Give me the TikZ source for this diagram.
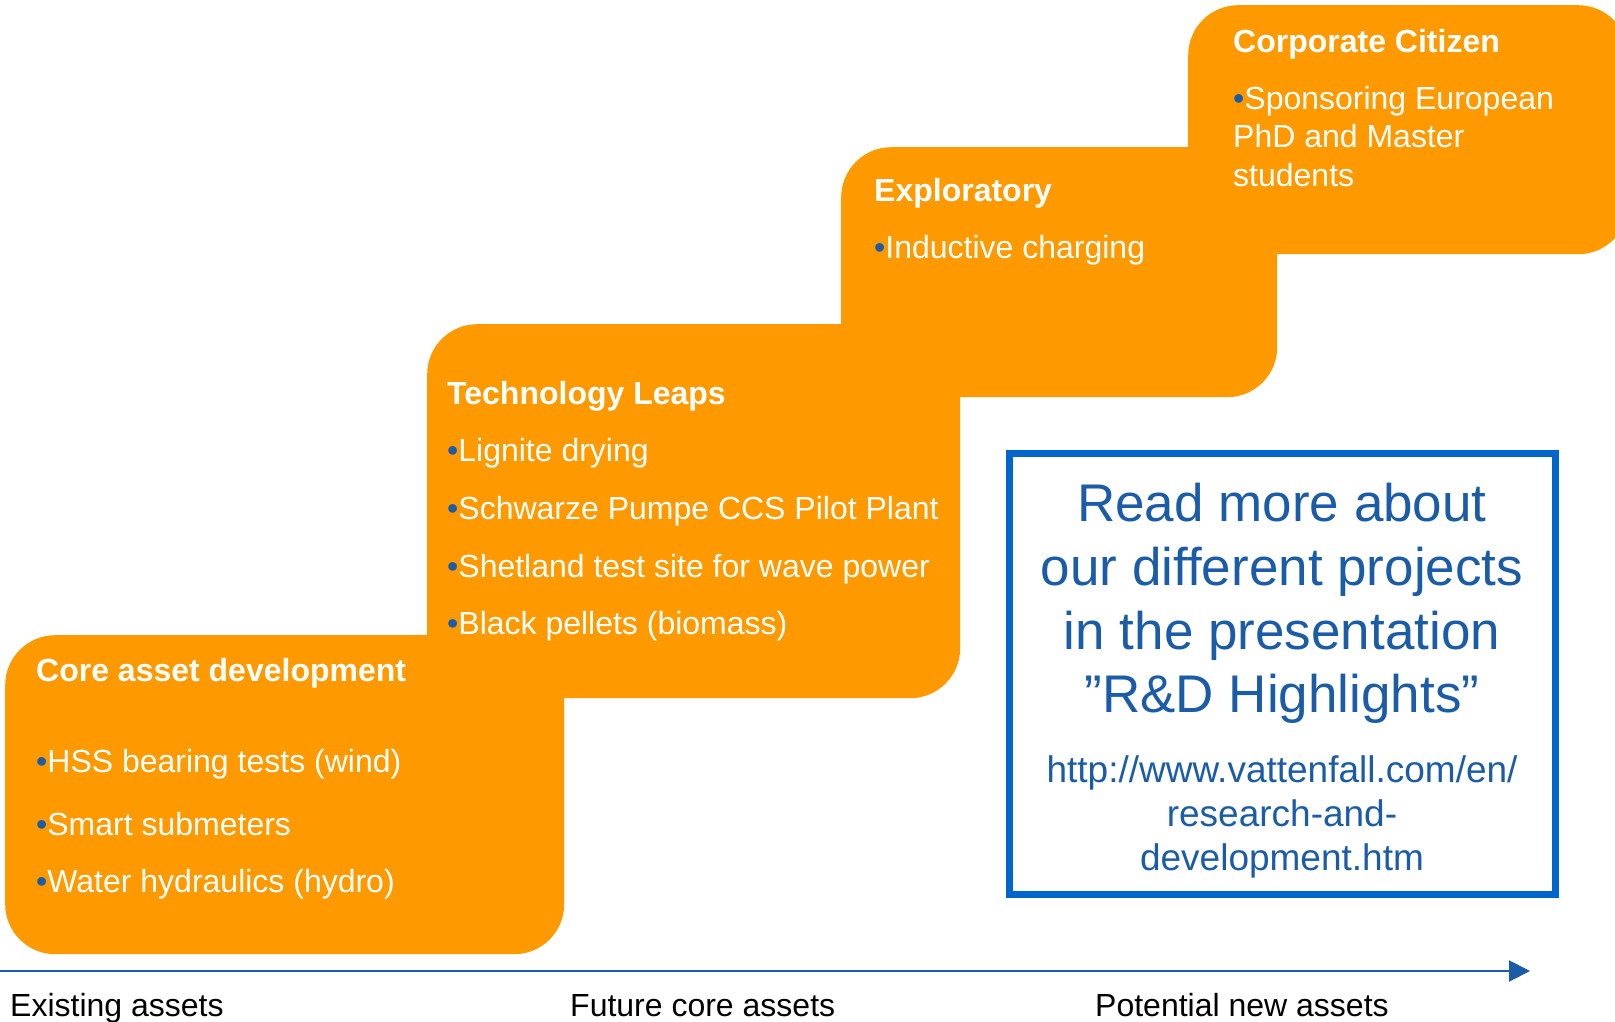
\documentclass[tikz,border=0pt]{standalone}
\usepackage{fontspec}
\setmainfont{Liberation Sans}
\usetikzlibrary{arrows.meta}
\definecolor{vorange}{RGB}{255,153,0}
\definecolor{vblue}{RGB}{27,92,168}
\definecolor{vborder}{RGB}{0,102,204}
\newcommand{\bul}{{\color{vblue}•}}
\tikzset{
 stepbox/.style={fill=vorange, rounded corners=50pt, anchor=north west, inner sep=0pt, draw=none},
 ttl/.style={anchor=base west, inner sep=0pt, text=white, font=\fontsize{32}{38.4}\selectfont\bfseries},
 itm/.style={anchor=base west, inner sep=0pt, text=white, font=\fontsize{32}{38.4}\selectfont},
 big/.style={anchor=base, inner sep=0pt, text=vblue, font=\fontsize{53}{64}\selectfont},
 urltxt/.style={anchor=base, inner sep=0pt, text=vblue, font=\fontsize{37}{44}\selectfont},
 axlbl/.style={anchor=base west, inner sep=0pt, text=black, font=\fontsize{32}{38.4}\selectfont},
}
\begin{document}
\begin{tikzpicture}[x=1pt,y=-1pt]
\useasboundingbox (0,0) rectangle (1615,1022);
% boxes
\node[stepbox, minimum width=559pt, minimum height=319pt] (b1) at (5,635) {};
\node[stepbox, minimum width=533pt, minimum height=374pt] (b2) at (427,324) {};
\node[stepbox, minimum width=436pt, minimum height=250pt] (b3) at (841,147) {};
\node[stepbox, minimum width=440pt, minimum height=249pt] (b4) at (1188,5) {};
% box 1 text
\node[ttl] (t1) at (36,681) {Core asset development};
\node[itm] (i11) at (36,772) {\bul HSS bearing tests (wind)};
\node[itm] (i12) at (36,835) {\bul Smart submeters};
\node[itm] (i13) at (36,892) {\bul Water hydraulics (hydro)};
% box 2 text
\node[ttl] (t2) at (447,404) {Technology Leaps};
\node[itm] (i21) at (447,461) {\bul Lignite drying};
\node[itm] (i22) at (447,519) {\bul Schwarze Pumpe CCS Pilot Plant};
\node[itm] (i23) at (447,577) {\bul Shetland test site for wave power};
\node[itm] (i24) at (447,634) {\bul Black pellets (biomass)};
% box 3 text
\node[ttl] (t3) at (874,201) {Exploratory};
\node[itm] (i31) at (874,258) {\bul Inductive charging};
% box 4 text
\node[ttl] (t4) at (1233,53) {Corporate Citizen};
\node[itm] (i41) at (1233,110) {\bul Sponsoring European};
\node[itm] (i42) at (1233,148) {PhD and Master};
\node[itm] (i43) at (1233,186) {students};
% read more box
\node[draw=vborder, line width=7pt, minimum width=546pt, minimum height=441pt, anchor=north west, inner sep=0pt] (rm) at (1005.5,449.5) {};
\node[big] (r1) at (1282,521) {Read more about};
\node[big] (r2) at (1282,585) {our different projects};
\node[big] (r3) at (1282,649) {in the presentation};
\node[big] (r4) at (1282,712) {”R\&D Highlights”};
\node[urltxt] (u1) at (1282,782) {http://www.vattenfall.com/en/};
\node[urltxt] (u2) at (1282,826) {research-and-};
\node[urltxt] (u3) at (1282,870) {development.htm};
% axis
\coordinate (a0) at (0,971);
\coordinate (a1) at (1530,971);
\draw[vblue, line width=2pt, -{Triangle[length=21pt,width=21pt]}] (a0) -- (a1);
\node[axlbl] (l1) at (10,1016) {Existing assets};
\node[axlbl] (l2) at (570,1016) {Future core assets};
\node[axlbl] (l3) at (1095,1016) {Potential new assets};
\end{tikzpicture}
\end{document}
